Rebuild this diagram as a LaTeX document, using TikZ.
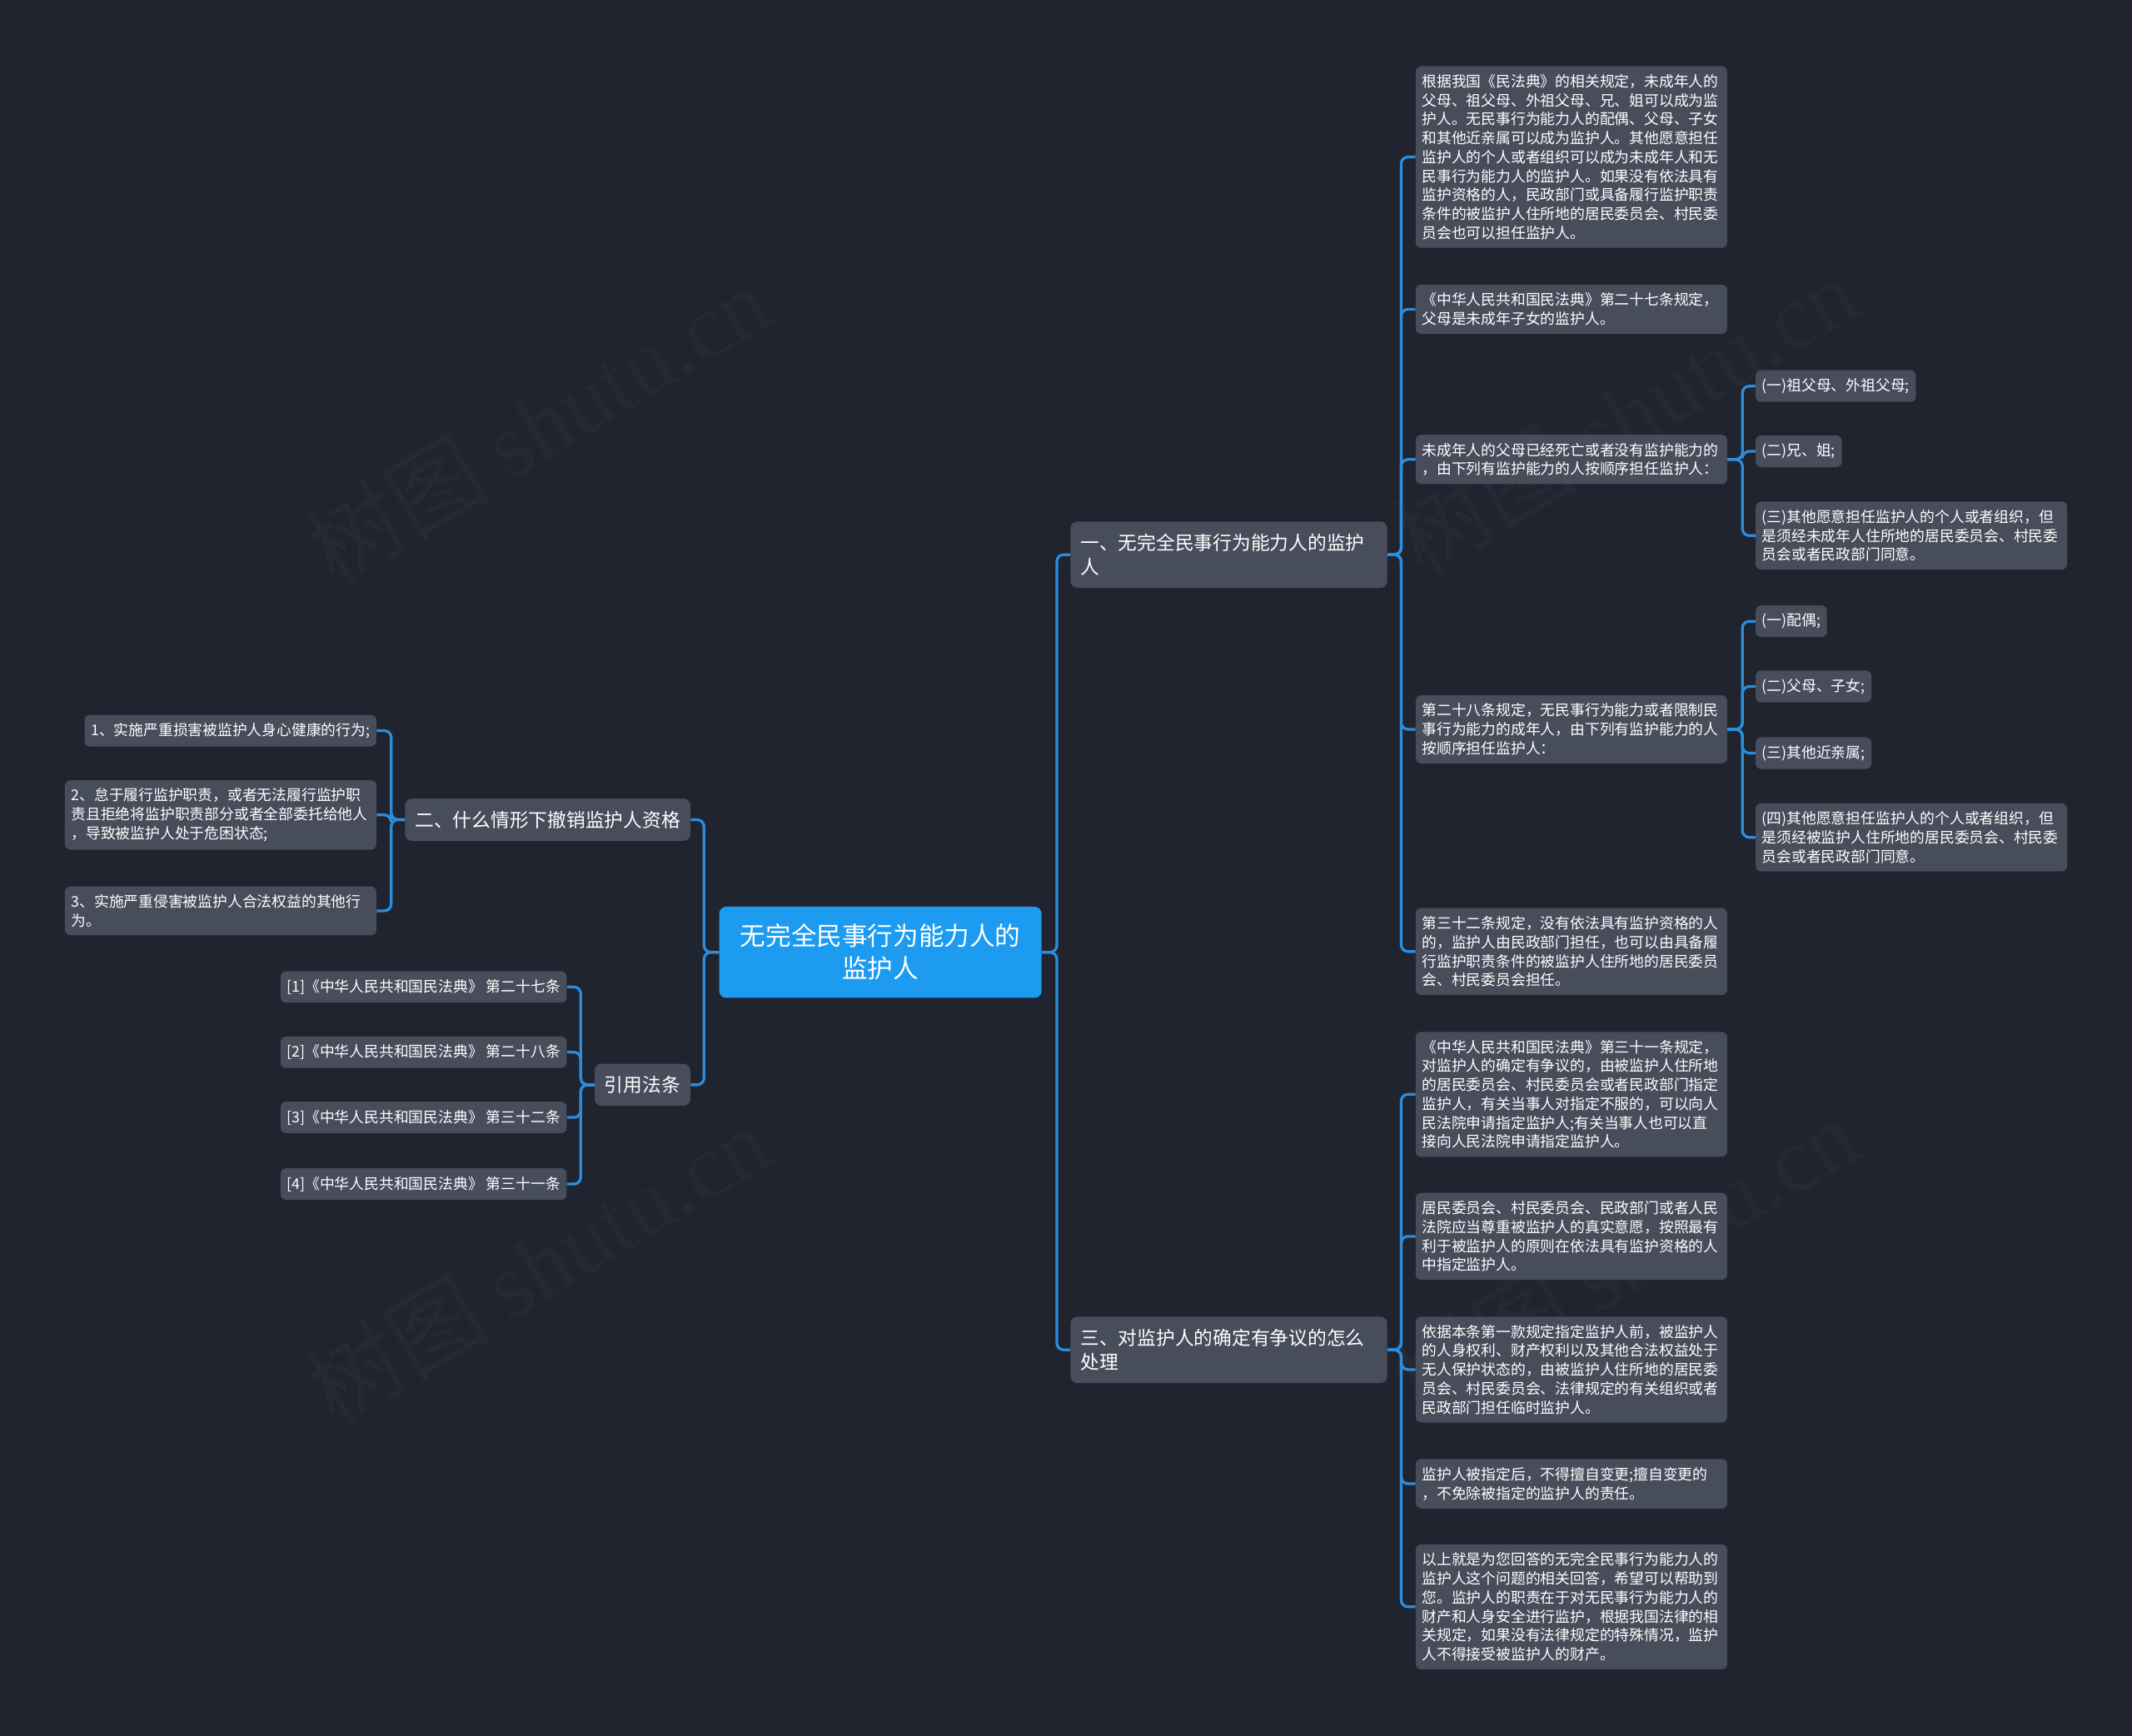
\documentclass[tikz,border=0pt]{standalone}
\usepackage{fontspec}
\setmainfont{Noto Sans CJK SC}
\newfontfamily\wmfont{Liberation Serif}
\usepackage{xcolor}
\usepackage{tikz}
\usetikzlibrary{positioning,calc}
\definecolor{MapBg}{HTML}{20242F}
\definecolor{MapBox}{HTML}{474D5B}
\definecolor{MapBlue}{HTML}{1C9BF0}
\definecolor{MapLine}{HTML}{2A8DDE}
\tikzset{
    leaf/.style={rectangle, rounded corners=0.12cm, fill=MapBox, text=white, align=left,
        inner xsep=0.14cm, inner ysep=0.18cm, font=\fontsize{9.3}{11.9}\selectfont},
    leafw/.style={leaf, text width=6.59cm},
    branch/.style={rectangle, rounded corners=0.15cm, fill=MapBox, text=white, align=left,
        inner xsep=0.22cm, inner ysep=0.27cm, font=\fontsize{11.9}{15.3}\selectfont},
    link/.style={draw=MapLine, line width=0.06cm, rounded corners=0.15cm}
}

\begin{document}
\begin{tikzpicture}[
        x=0.03cm, y=-0.03cm,
        % chủ đề trung tâm
        rootnode/.style={
            rectangle,
            rounded corners=0.15cm,
            fill=MapBlue,
            text=white,
            align=center,
            minimum width=7.11cm,
            minimum height=2.01cm,
            font=\fontsize{16}{20.4}\selectfont
        },
        mark text/.style={text=white, opacity=0.025, rotate=31, font=\fontsize{58}{60}\selectfont}
    ]
        % --- NỀN ---
        \fill[MapBg] (0,0) rectangle (1568,1277);
        \useasboundingbox (0,0) rectangle (1568,1277);
        \node[mark text] (wm1) at (395,312) {树图 {\wmfont shutu.cn}};
        \node[mark text] (wm2) at (395,930) {树图 {\wmfont shutu.cn}};
        \node[mark text] (wm3) at (1195,305) {树图 {\wmfont shutu.cn}};
        \node[mark text] (wm4) at (1195,925) {树图 {\wmfont shutu.cn}};

        % --- CHỦ ĐỀ ---
        \node[rootnode] (root) at (647.5,700.5) {无完全民事行为能力人的\\监护人};

        % --- NHÁNH PHẢI ---
        \node[branch, text width=6.55cm, anchor=west] (b1) at (787,408) {一、无完全民事行为能力人的监护\\人};
        \node[branch, text width=6.55cm, anchor=west] (b3) at (787,993) {三、对监护人的确定有争议的怎么\\处理};

        % con của nhánh 一
        \node[leafw, anchor=west] (c1) at (1041,115.5) {根据我国《民法典》的相关规定，未成年人的\\父母、祖父母、外祖父母、兄、姐可以成为监\\护人。无民事行为能力人的配偶、父母、子女\\和其他近亲属可以成为监护人。其他愿意担任\\监护人的个人或者组织可以成为未成年人和无\\民事行为能力人的监护人。如果没有依法具有\\监护资格的人，民政部门或具备履行监护职责\\条件的被监护人住所地的居民委员会、村民委\\员会也可以担任监护人。};
        \node[leafw, anchor=west] (c2) at (1041,227.5) {《中华人民共和国民法典》第二十七条规定，\\父母是未成年子女的监护人。};
        \node[leafw, anchor=west] (c3) at (1041,338) {未成年人的父母已经死亡或者没有监护能力的\\，由下列有监护能力的人按顺序担任监护人：};
        \node[leafw, anchor=west] (c4) at (1041,536.5) {第二十八条规定，无民事行为能力或者限制民\\事行为能力的成年人，由下列有监护能力的人\\按顺序担任监护人：};
        \node[leafw, anchor=west] (c5) at (1041,700) {第三十二条规定，没有依法具有监护资格的人\\的，监护人由民政部门担任，也可以由具备履\\行监护职责条件的被监护人住所地的居民委员\\会、村民委员会担任。};

        \node[leaf, anchor=west] (g1) at (1291,284) {(一)祖父母、外祖父母;};
        \node[leaf, anchor=west] (g2) at (1291,332) {(二)兄、姐;};
        \node[leafw, anchor=west] (g3) at (1291,394) {(三)其他愿意担任监护人的个人或者组织，但\\是须经未成年人住所地的居民委员会、村民委\\员会或者民政部门同意。};

        \node[leaf, anchor=west] (h1) at (1291,457) {(一)配偶;};
        \node[leaf, anchor=west] (h2) at (1291,505) {(二)父母、子女;};
        \node[leaf, anchor=west] (h3) at (1291,554) {(三)其他近亲属;};
        \node[leafw, anchor=west] (h4) at (1291,616) {(四)其他愿意担任监护人的个人或者组织，但\\是须经被监护人住所地的居民委员会、村民委\\员会或者民政部门同意。};

        % con của nhánh 三
        \node[leafw, anchor=west] (d1) at (1041,805) {《中华人民共和国民法典》第三十一条规定，\\对监护人的确定有争议的，由被监护人住所地\\的居民委员会、村民委员会或者民政部门指定\\监护人，有关当事人对指定不服的，可以向人\\民法院申请指定监护人;有关当事人也可以直\\接向人民法院申请指定监护人。};
        \node[leafw, anchor=west] (d2) at (1041,909.5) {居民委员会、村民委员会、民政部门或者人民\\法院应当尊重被监护人的真实意愿，按照最有\\利于被监护人的原则在依法具有监护资格的人\\中指定监护人。};
        \node[leafw, anchor=west] (d3) at (1041,1007.5) {依据本条第一款规定指定监护人前，被监护人\\的人身权利、财产权利以及其他合法权益处于\\无人保护状态的，由被监护人住所地的居民委\\员会、村民委员会、法律规定的有关组织或者\\民政部门担任临时监护人。};
        \node[leafw, anchor=west] (d4) at (1041,1091.5) {监护人被指定后，不得擅自变更;擅自变更的\\，不免除被指定的监护人的责任。};
        \node[leafw, anchor=west] (d5) at (1041,1182) {以上就是为您回答的无完全民事行为能力人的\\监护人这个问题的相关回答，希望可以帮助到\\您。监护人的职责在于对无民事行为能力人的\\财产和人身安全进行监护，根据我国法律的相\\关规定，如果没有法律规定的特殊情况，监护\\人不得接受被监护人的财产。};

        % --- NHÁNH TRÁI ---
        \node[branch, anchor=east] (l2) at (508,603) {二、什么情形下撤销监护人资格};
        \node[branch, anchor=east] (lref) at (508,798) {引用法条};

        \node[leaf, anchor=east] (e1) at (277,537.5) {1、实施严重损害被监护人身心健康的行为;};
        \node[leafw, anchor=east] (e2) at (277,599.5) {2、怠于履行监护职责，或者无法履行监护职\\责且拒绝将监护职责部分或者全部委托给他人\\，导致被监护人处于危困状态;};
        \node[leafw, anchor=east] (e3) at (277,670) {3、实施严重侵害被监护人合法权益的其他行\\为。};

        \node[leaf, anchor=east] (f1) at (417,726) {[1]《中华人民共和国民法典》 第二十七条};
        \node[leaf, anchor=east] (f2) at (417,774) {[2]《中华人民共和国民法典》 第二十八条};
        \node[leaf, anchor=east] (f3) at (417,822) {[3]《中华人民共和国民法典》 第三十二条};
        \node[leaf, anchor=east] (f4) at (417,871) {[4]《中华人民共和国民法典》 第三十一条};

        % --- ĐƯỜNG NỐI ---
        \draw[link] (root.east) -- ++(11,0) |- (b1.west);
        \draw[link] (root.east) -- ++(11,0) |- (b3.west);
        \draw[link] (root.west) -- ++(-11,0) |- (l2.east);
        \draw[link] (root.west) -- ++(-11,0) |- (lref.east);

        \draw[link] (b1.east) -- ++(10,0) |- (c1.west);
        \draw[link] (b1.east) -- ++(10,0) |- (c2.west);
        \draw[link] (b1.east) -- ++(10,0) |- (c3.west);
        \draw[link] (b1.east) -- ++(10,0) |- (c4.west);
        \draw[link] (b1.east) -- ++(10,0) |- (c5.west);

        \draw[link] (c3.east) -- ++(11,0) |- (g1.west);
        \draw[link] (c3.east) -- ++(11,0) |- (g2.west);
        \draw[link] (c3.east) -- ++(11,0) |- (g3.west);

        \draw[link] (c4.east) -- ++(11,0) |- (h1.west);
        \draw[link] (c4.east) -- ++(11,0) |- (h2.west);
        \draw[link] (c4.east) -- ++(11,0) |- (h3.west);
        \draw[link] (c4.east) -- ++(11,0) |- (h4.west);

        \draw[link] (b3.east) -- ++(10,0) |- (d1.west);
        \draw[link] (b3.east) -- ++(10,0) |- (d2.west);
        \draw[link] (b3.east) -- ++(10,0) |- (d3.west);
        \draw[link] (b3.east) -- ++(10,0) |- (d4.west);
        \draw[link] (b3.east) -- ++(10,0) |- (d5.west);

        \draw[link] (l2.west) -- ++(-10,0) |- (e1.east);
        \draw[link] (l2.west) -- ++(-10,0) |- (e2.east);
        \draw[link] (l2.west) -- ++(-10,0) |- (e3.east);

        \draw[link] (lref.west) -- ++(-10,0) |- (f1.east);
        \draw[link] (lref.west) -- ++(-10,0) |- (f2.east);
        \draw[link] (lref.west) -- ++(-10,0) |- (f3.east);
        \draw[link] (lref.west) -- ++(-10,0) |- (f4.east);

    \end{tikzpicture}
\end{document}
